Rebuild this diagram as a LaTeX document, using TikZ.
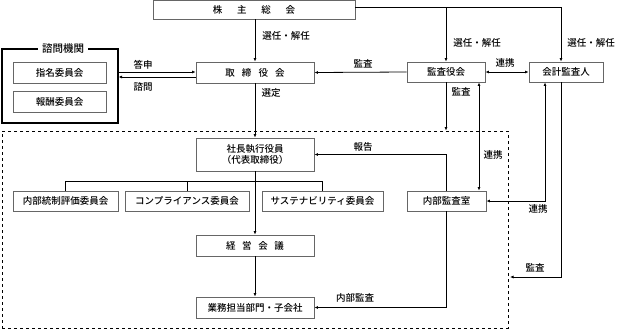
\documentclass[tikz,border=0pt]{standalone}
\usepackage{fontspec}
\setmainfont{Noto Sans CJK JP}[UprightFont=* Medium]
\usepackage{tikz}
\usetikzlibrary{arrows.meta}

\tikzset{
    orgbox/.style={draw=black!60, line width=0.9pt, fill=white, inner sep=0pt,
        minimum height=20pt, font=\fontsize{9.5}{11}\selectfont},
    lbl/.style={inner sep=0pt, font=\fontsize{9.5}{11}\selectfont},
    link/.style={line width=0.8pt},
}

\begin{document}
\begin{tikzpicture}[x=1pt, y=-1pt, >={Latex[length=3.5pt,width=3pt]}]
    \useasboundingbox (0,0) rectangle (617,330);

    % Draw the boxes
    \node[orgbox, minimum width=202pt, minimum height=19pt] (meeting) at (254,9.5) {株\hspace{1.55em}主\hspace{1.55em}総\hspace{1.55em}会};
    \node[orgbox, minimum width=118pt, minimum height=21pt] (board) at (255,72.5) {取\hspace{0.75em}締\hspace{0.75em}役\hspace{0.75em}会};
    \node[orgbox, minimum width=78pt] (auditboard) at (446,72) {監査役会};
    \node[orgbox, minimum width=74pt] (accountant) at (566,72) {会計監査人};

    % Advisory bodies
    \node[draw=black, line width=1.1pt, minimum width=116pt, minimum height=74pt, inner sep=0pt] (advisory) at (60,86) {};
    \node[lbl, fill=white, inner xsep=4pt, font=\fontsize{10.5}{12}\selectfont] (advtitle) at (63,49) {諮問機関};
    \node[orgbox, minimum width=93pt, minimum height=21pt] (nomination) at (59.5,72.5) {指名委員会};
    \node[orgbox, minimum width=93pt, minimum height=21pt] (compensation) at (59.5,101.5) {報酬委員会};

    % Execution side
    \node[draw, dashed, line width=0.9pt, minimum width=506pt, minimum height=197pt, inner sep=0pt] (execution) at (255,229.5) {};
    \node[orgbox, minimum width=118pt, minimum height=33pt, align=center] (president) at (255,154.5) {社長執行役員\\（代表取締役）};
    \node[orgbox, minimum width=105pt] (control) at (65.5,201) {内部統制評価委員会};
    \node[orgbox, minimum width=124pt] (compliance) at (187,201) {コンプライアンス委員会};
    \node[orgbox, minimum width=121pt] (sustain) at (322.5,201) {サステナビリティ委員会};
    \node[orgbox, minimum width=79pt] (internal) at (446.5,201) {内部監査室};
    \node[orgbox, minimum width=118pt, minimum height=21pt] (mgmt) at (255,245.5) {経\hspace{0.7em}営\hspace{0.7em}会\hspace{0.7em}議};
    \node[orgbox, minimum width=118pt, minimum height=21pt] (units) at (255,307.5) {業務担当部門・子会社};

    % Helper points
    \coordinate (topline) at (355,7);
    \coordinate (bus) at (255,181);
    \coordinate (auditin) at (510,277);
    \coordinate (linkA) at ([xshift=33pt]auditboard.south);
    \coordinate (linkB) at ([xshift=-21pt]accountant.south);
    \coordinate (linkC) at ([xshift=-5pt]accountant.south);

    % Draw connectors
    \draw[link, ->] (board.north |- meeting.south) -- (board.north);
    \draw[link, ->] (topline) -| (linkC |- accountant.north);
    \draw[link, ->] (auditboard.north |- topline) -- (auditboard.north);
    \draw[link, ->, transform canvas={yshift=0.5pt}] (advisory.east |- board.west) -- (board.west);
    \draw[link, <-, transform canvas={yshift=-4.5pt}] (advisory.east |- board.west) -- (board.west);
    \draw[link, ->] (auditboard.west) -- (board.east);
    \draw[link, <->] (auditboard.east) -- (accountant.west);
    \draw[link, ->] (board.south) -- (president.north);
    \draw[link, ->] (auditboard.south) -- (auditboard.south |- execution.north);
    \draw[link, <->] (linkA) -- (linkA |- internal.north);
    \draw[link, <->] (linkB) |- (internal.east);
    \draw[link, ->] (linkC) |- (auditin);
    \draw[link, ->] (internal.north) |- (president.east);
    \draw[link, ->] (internal.south) |- (units.east);
    \draw[link, ->] (president.south) -- (mgmt.north);
    \draw[link, ->] (mgmt.south) -- (units.north);
    \draw[link] (control.north |- bus) -- (sustain.north |- bus);
    \foreach \n in {control, compliance, sustain}
        \draw[link] (\n.north |- bus) -- (\n.north);

    % Labels
    \node[lbl] (l1) at (286,36) {選任・解任};
    \node[lbl] (l2) at (477,43) {選任・解任};
    \node[lbl] (l3) at (591,43) {選任・解任};
    \node[lbl] (l4) at (143,65) {答申};
    \node[lbl] (l5) at (143,87) {諮問};
    \node[lbl] (l6) at (363,64) {監査};
    \node[lbl] (l7) at (505,63) {連携};
    \node[lbl] (l8) at (461,92) {監査};
    \node[lbl] (l9) at (271,93) {選定};
    \node[lbl] (l10) at (363,147) {報告};
    \node[lbl] (l11) at (493,155) {連携};
    \node[lbl] (l12) at (538,209) {連携};
    \node[lbl] (l13) at (535,268) {監査};
    \node[lbl] (l14) at (355,298) {内部監査};
\end{tikzpicture}
\end{document}
